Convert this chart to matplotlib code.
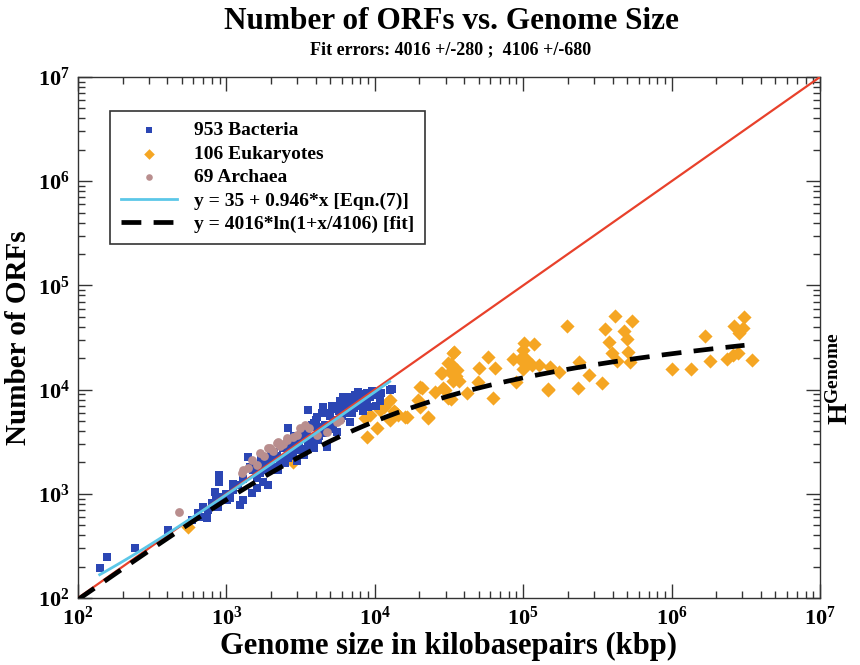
import numpy as np
import matplotlib
matplotlib.use('Agg')
import matplotlib.pyplot as plt
from matplotlib.ticker import LogLocator, FuncFormatter, NullFormatter

# values (genome size in kbp, number of ORFs)
bac_kbp = [141, 156, 242, 406, 583, 647, 660, 698, 736, 750, 794, 837, 881, 895, 895, 930, 1004, 1000,
           1060, 1114, 1203, 1233, 1290, 1406, 1479, 1518, 1600, 1600, 1682, 1750, 1760, 1820, 1920, 1920,
           1960, 2070, 2180, 2240, 2296, 2400, 2500, 2613, 2650, 2760, 2822, 2900, 3000, 3133, 3250, 3340,
           3500, 3566, 3560, 3656, 3800, 3870, 3990, 4055, 4150, 4300, 4400, 4496, 4620, 4740, 4800, 4990,
           5160, 5340, 5530, 5700, 5800, 5950, 6138, 6290, 6600, 6808, 7000, 7350, 7745, 7950, 8300, 8824,
           9290, 9772, 10200, 10850, 12650, 13000,
           2100, 2300, 2550, 2700, 3100, 3300, 3700, 4100, 4500, 5000, 5500, 6000, 6500, 7200, 8000, 9000,
           1300, 1100, 850, 1700, 1450, 2000, 2600, 3400, 4200, 5200, 5900, 6900, 8500, 11000,
           4700, 5300, 6200, 7600, 8900, 9600, 3900, 3200, 2850, 5600, 6700, 7400]
bac_orfs = [193, 249, 304, 450, 561, 650, 600, 751, 582, 700, 811, 1048, 751, 1513, 1300, 930, 871, 1000,
            910, 1087, 1216, 781, 870, 2270, 1011, 1680, 1420, 1130, 1574, 1900, 1300, 2190, 1680, 1220,
            2000, 1820, 2300, 1710, 2193, 2730, 1980, 4256, 2520, 3280, 2449, 2950, 2050, 2630, 3430, 2340,
            4100, 6368, 2950, 3531, 4570, 2730, 5100, 5495, 3300, 4100, 6000, 6855, 4570, 4093, 2800, 5580,
            7020, 5100, 3900, 6230, 7800, 5320, 8556, 6230, 7000, 4920, 6000, 7950, 9549, 7000, 6230, 7655,
            8400, 8869, 7000, 7800, 9900, 10070,
            2500, 2000, 2900, 2300, 3000, 3800, 3200, 4400, 3800, 4600, 5000, 5600, 5900, 6600, 8000, 6800,
            1400, 1250, 900, 2100, 1800, 2400, 2200, 2700, 3600, 4200, 6900, 8400, 9000, 9200,
            5900, 6500, 7400, 8600, 9300, 9800, 4800, 3900, 3600, 6700, 8100, 8900]

euk_kbp = [415900, 3090000, 544000, 198000, 2640000, 357000, 477000, 3010000, 2860000, 1690000, 500000,
           380000, 102000, 118000, 100000, 34200, 396000, 511000, 2810000, 2580000, 57900, 84900, 94600,
           105000, 430000, 524000, 1820000, 2370000, 3500000, 239000, 32400, 50600, 64500, 99100, 114000,
           128000, 152000, 173000, 1000000, 1360000, 28000, 32000, 35000, 37000, 33500, 277000, 89300,
           49300, 20700, 29700, 42000, 146000, 234000, 341000, 63000, 32400, 19600, 12650, 20200, 22700,
           16000, 14400, 8830, 8590, 9290, 10840, 12330, 12650, 14000, 16400, 20200, 23000, 25500, 29000,
           31300, 33900, 35700, 31300, 10300, 2820, 553, 28200, 147000, 11500, 13500]
euk_orfs = [50800, 50100, 45800, 40700, 40700, 38200, 36800, 38700, 34700, 32900, 30400,
            28400, 27800, 27400, 24000, 22800, 22300, 22800, 22300, 21500, 20700, 19500, 19500,
            19500, 18800, 18500, 18800, 19700, 19200, 18300, 17600, 16200, 16000, 15600, 17200,
            17200, 16600, 14900, 15600, 15600, 14500, 14800, 13500, 12200, 12000, 13800, 11900,
            11900, 10400, 10000, 9200, 10100, 10400, 11500, 8240, 8120, 7940, 7940, 6760, 5310,
            5500, 5700, 3530, 5310, 5700, 6370, 7650, 5100, 5920, 5500, 10660, 5500, 9550, 10300,
            8240, 22300, 15400, 17900, 4260, 2040, 483, 14400, 9900, 6800, 6200]

arc_kbp = [480, 1268, 1301, 1479, 1683, 1914, 1966, 2182, 2239, 2549, 2549, 3133, 3386, 4055, 4740,
           5535, 5820, 1600, 1800, 2050, 2400, 2800, 3000, 3600, 1400, 2300]
arc_orfs = [664, 1574, 1691, 2109, 2448, 2737, 2737, 3054, 3168, 3414, 3281, 4256, 4574, 3665, 3946,
            4920, 5105, 1900, 2300, 2600, 3000, 3500, 3700, 4300, 1750, 2900]

# fitted curves
eqn_range = (140, 12600)
fit_range = (100, 3.1e6)
fit_a, fit_b = 4016, 4106

plt.rcParams['font.family'] = ['Liberation Serif', 'DejaVu Serif']
plt.rcParams['font.weight'] = 'bold'
plt.rcParams['axes.labelweight'] = 'bold'
plt.rcParams['mathtext.fontset'] = 'custom'
plt.rcParams['mathtext.rm'] = 'Liberation Serif:bold'
plt.rcParams['mathtext.bf'] = 'Liberation Serif:bold'
plt.rcParams['mathtext.it'] = 'Liberation Serif:bold'

fig = plt.figure(figsize=(8.6, 6.65), dpi=100)
ax = fig.add_axes([78 / 860, 1 - 598 / 665, 742 / 860, 521 / 665])

ax.scatter(euk_kbp, euk_orfs, marker='D', s=52, color='#f5a623', linewidths=0, zorder=2,
           label='106 Eukaryotes')
ax.scatter(bac_kbp, bac_orfs, marker='s', s=38, color='#2b46b4', linewidths=0, zorder=3,
           label='953 Bacteria')
ax.scatter(arc_kbp, arc_orfs, marker='o', s=40, color='#b98e8e', linewidths=0, zorder=4,
           label='69 Archaea')

xr = np.logspace(2, 7, 200)
ax.plot(xr, xr, color='#e8412b', lw=1.6, zorder=5)

xe = np.logspace(np.log10(eqn_range[0]), np.log10(eqn_range[1]), 100)
ax.plot(xe, 35 + 0.946 * xe, color='#5cc7e8', lw=2.0, zorder=6, label='y = 35 + 0.946*x [Eqn.(7)]')

xf = np.logspace(np.log10(fit_range[0]), np.log10(fit_range[1]), 300)
ax.plot(xf, fit_a * np.log(1 + xf / fit_b), color='black', lw=3.4, dashes=(4.2, 2.6), zorder=7,
        label='y = 4016*ln(1+x/4106) [fit]')

ax.set_xscale('log')
ax.set_yscale('log')
ax.set_xlim(1e2, 1e7)
ax.set_ylim(1e2, 1e7)

fmt = FuncFormatter(lambda v, p: r'$\mathbf{10^{%d}}$' % round(np.log10(v)))
for axis in (ax.xaxis, ax.yaxis):
    axis.set_major_locator(LogLocator(base=10, numticks=10))
    axis.set_minor_locator(LogLocator(base=10, subs=np.arange(2, 10), numticks=10))
    axis.set_major_formatter(fmt)
    axis.set_minor_formatter(NullFormatter())
ax.tick_params(which='both', direction='in', top=True, right=True, width=1.0, color='#333333')
ax.tick_params(which='major', length=10, labelsize=16, pad=6)
ax.tick_params(which='minor', length=5)
for sp in ax.spines.values():
    sp.set_linewidth(1.0)
    sp.set_color('#333333')

handles, labels = ax.get_legend_handles_labels()
order = [labels.index(l) for l in ['953 Bacteria', '106 Eukaryotes', '69 Archaea',
                                    'y = 35 + 0.946*x [Eqn.(7)]', 'y = 4016*ln(1+x/4106) [fit]']]
leg = ax.legend([handles[i] for i in order], [labels[i] for i in order],
                loc='upper left', bbox_to_anchor=(0.043, 0.935), borderaxespad=0,
                fancybox=False, edgecolor='#333333', framealpha=1, fontsize=14,
                handlelength=2.9, handletextpad=0.9, labelspacing=0.3, markerscale=0.75,
                borderpad=0.55)
leg.get_frame().set_linewidth(1.2)

ax.set_xlabel('Genome size in kilobasepairs (kbp)', fontsize=22, labelpad=2)
ax.set_ylabel('Number of ORFs', fontsize=21, labelpad=4)

fig.text(0.525, 0.967, 'Number of ORFs vs. Genome Size', ha='center', va='center', fontsize=22.5)
fig.text(0.524, 0.925, 'Fit errors: 4016 +/-280 ;  4106 +/-680', ha='center', va='center', fontsize=13)
fig.text(0.977, 0.43, r'$\mathbf{H^{Genome}}$', rotation=90, ha='center', va='center', fontsize=20)

fig.savefig('out.png', dpi=100)
